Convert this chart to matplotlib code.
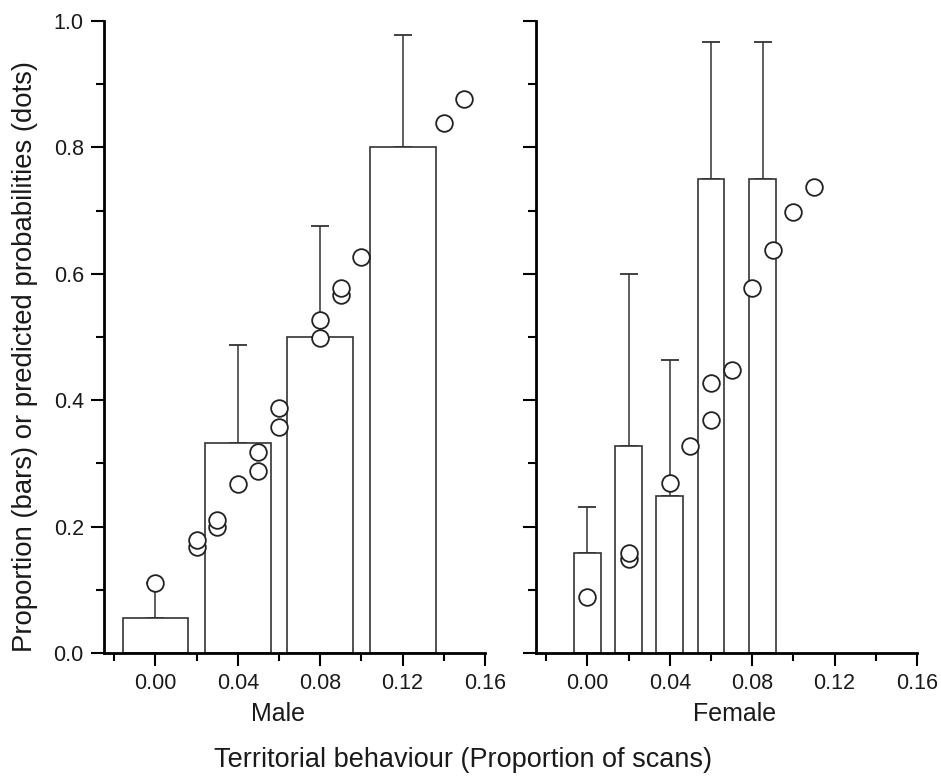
import matplotlib
matplotlib.use("Agg")
import matplotlib.pyplot as plt
from matplotlib.ticker import MultipleLocator

plt.rcParams['font.family'] = ['Liberation Sans', 'DejaVu Sans']

# Male data
male_bar_x = [0.00, 0.04, 0.08, 0.12]
male_bar_y = [0.055, 0.333, 0.50, 0.80]
male_err = [0.055, 0.155, 0.175, 0.178]
male_dot_x = [0.00, 0.02, 0.02, 0.03, 0.03, 0.04, 0.05, 0.05, 0.06, 0.06,
              0.08, 0.08, 0.09, 0.09, 0.10, 0.14, 0.15]
male_dot_y = [0.11, 0.168, 0.179, 0.200, 0.210, 0.267, 0.288, 0.318, 0.357, 0.387,
              0.498, 0.527, 0.567, 0.578, 0.627, 0.838, 0.877]

# Female data
female_bar_x = [0.00, 0.02, 0.04, 0.06, 0.085]
female_bar_y = [0.158, 0.327, 0.248, 0.75, 0.75]
female_err = [0.073, 0.272, 0.215, 0.216, 0.216]
female_dot_x = [0.00, 0.02, 0.02, 0.04, 0.05, 0.06, 0.06, 0.07, 0.08, 0.09, 0.10, 0.11]
female_dot_y = [0.088, 0.148, 0.158, 0.269, 0.327, 0.368, 0.428, 0.447, 0.577, 0.637, 0.698, 0.737]

xticks = [0.00, 0.04, 0.08, 0.12, 0.16]
xtick_labels = ["0.00", "0.04", "0.08", "0.12", "0.16"]
yticks = [0.0, 0.2, 0.4, 0.6, 0.8, 1.0]
ytick_labels = ["0.0", "0.2", "0.4", "0.6", "0.8", "1.0"]

fig = plt.figure(figsize=(9.41, 7.80), dpi=100)
ax1 = fig.add_axes([104/941, 1-653/780, 381/941, 632/780])
ax2 = fig.add_axes([536/941, 1-653/780, 381/941, 632/780])

edge = '#333333'

def draw(ax, bx, by, be, width, dx, dy, show_ylabels):
    ax.bar(bx, by, width=width, color='white', edgecolor=edge, linewidth=1.2, zorder=2)
    ax.errorbar(bx, by, yerr=[[0]*len(be), be], fmt='none', ecolor=edge,
                elinewidth=1.1, capsize=6.5, capthick=1.3, zorder=1.5)
    ax.plot(dx, dy, 'o', markersize=12, markerfacecolor='white',
            markeredgecolor='#222222', markeredgewidth=1.3, zorder=3, clip_on=False)
    ax.set_xlim(-0.025, 0.16)
    ax.set_ylim(0, 1.0)
    for s in ['top', 'right']:
        ax.spines[s].set_visible(False)
    for s in ['left', 'bottom']:
        ax.spines[s].set_linewidth(2.0)
    ax.set_xticks(xticks)
    ax.set_xticklabels(xtick_labels, fontsize=15.5, color='#1a1a1a')
    ax.xaxis.set_minor_locator(MultipleLocator(0.02))
    ax.set_yticks(yticks)
    if show_ylabels:
        ax.set_yticklabels(ytick_labels, fontsize=15.5, color='#1a1a1a')
    else:
        ax.set_yticklabels([])
    ax.yaxis.set_minor_locator(MultipleLocator(0.1))
    ax.tick_params(which='major', direction='out', length=9.5, width=1.5, pad=5)
    ax.tick_params(which='minor', direction='out', length=5.5, width=1.5)

draw(ax1, male_bar_x, male_bar_y, male_err, 0.032, male_dot_x, male_dot_y, True)
draw(ax2, female_bar_x, female_bar_y, female_err, 0.013, female_dot_x, female_dot_y, False)

ax1.text(0.457, -0.097, "Male", transform=ax1.transAxes, ha='center', va='center',
         fontsize=18, color='#1a1a1a')
ax2.text(0.52, -0.097, "Female", transform=ax2.transAxes, ha='center', va='center',
         fontsize=18, color='#1a1a1a')

fig.text(463/941, 1-760/780, "Territorial behaviour (Proportion of scans)",
         ha='center', va='center', fontsize=19.5, color='#1a1a1a')
fig.text(25/941, 1-357/780, "Proportion (bars) or predicted probabilities (dots)",
         ha='center', va='center', rotation=90, fontsize=19.8, color='#1a1a1a')

fig.savefig("out.png", dpi=100)
